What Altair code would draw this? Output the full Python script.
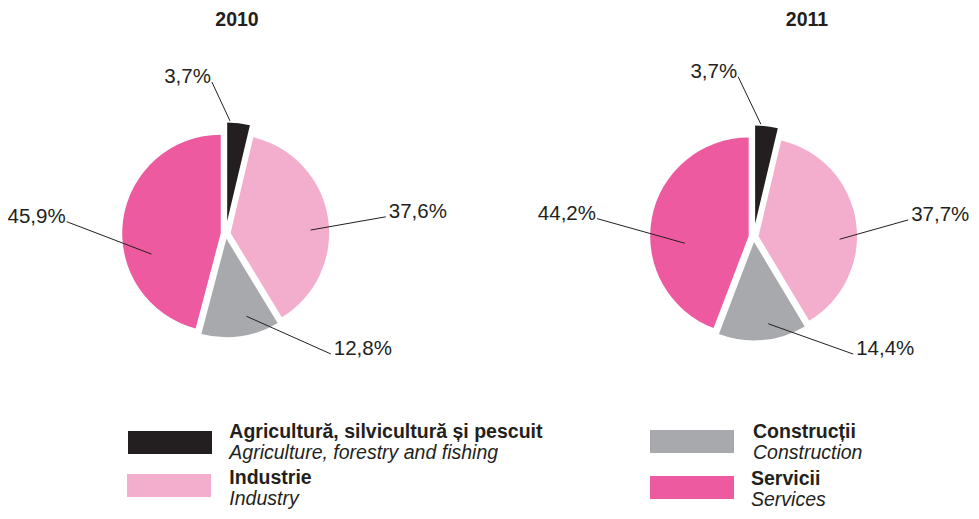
import altair as alt
import pandas as pd

# ---------------- data ----------------
YEARS = ["2010", "2011"]
CATEGORIES_RO = ["Agricultură, silvicultură și pescuit", "Industrie", "Construcții", "Servicii"]
CATEGORIES_EN = ["Agriculture, forestry and fishing", "Industry", "Construction", "Services"]
SHARE_2010 = [3.7, 37.6, 12.8, 45.9]
SHARE_2011 = [3.7, 37.7, 14.4, 44.2]

# ---------------- style / layout ----------------
COLORS = ["#231f20", "#f4aecd", "#a7a9ac", "#ee5a9f"]
TEXT_COLOR = "#231f20"
FONT = "Liberation Sans"
W, H = 963, 503
CENTERS = {"2010": (217.7, 225.9), "2011": (745.6, 229.0)}
RADIUS = 98.5
EXPLODE = [13, 5, 5, 5]
# leader lines per slice: (inner angle deg, inner dist, outer angle deg, outer dist)
LEADERS = {
    "2010": [(2.2, 113, 354.8, 152.5), (87.4, 85, 83.9, 161), (165.8, 85, 138.8, 159.5), (254.8, 77, 274.4, 159.5)],
    "2011": [(3.7, 113, 354.5, 161), (91.5, 86, 83.7, 155.5), (170.4, 88, 139.6, 153.7), (264.8, 69, 276.7, 157.7)],
}
TITLE_POS = {"2010": (229, 18), "2011": (799, 18)}
LEGEND_RECT = [(120, 423), (119, 466), (642, 422), (642, 468)]
LEGEND_RECT_SIZE = (84, 23)
LEGEND_TEXT = [(221.3, 430.3), (221.3, 476), (745, 430.3), (743, 477)]
LEGEND_LINE_GAP = 20.5

color_scale = alt.Scale(domain=CATEGORIES_RO, range=COLORS)

rows = []
for year, shares in zip(YEARS, [SHARE_2010, SHARE_2011]):
    for i, v in enumerate(shares):
        ia, ir, oa, orr = LEADERS[year][i]
        rows.append({
            "year": year, "order": i, "cat": CATEGORIES_RO[i], "value": v,
            "label": f"{v:.1f}".replace(".", ",") + "%",
            "explode": EXPLODE[i], "in_ang": ia, "in_r": ir, "out_ang": oa, "out_r": orr,
        })
df = pd.DataFrame(rows)

layers = []
for year in YEARS:
    cx, cy = CENTERS[year]
    base = alt.Chart(df).transform_filter(alt.datum.year == year).transform_window(
        cum="sum(value)", sort=[alt.SortField("order")], frame=[None, 0]
    ).transform_calculate(
        cum0="datum.cum - datum.value",
        mid="(datum.cum - datum.value / 2) / 100 * 2 * PI",
    ).transform_calculate(
        px=f"{cx} + datum.explode * sin(datum.mid)",
        py=f"{cy} - datum.explode * cos(datum.mid)",
        x1=f"{cx} + datum.in_r * sin(datum.in_ang * PI / 180)",
        y1=f"{cy} - datum.in_r * cos(datum.in_ang * PI / 180)",
        x2=f"{cx} + datum.out_r * sin(datum.out_ang * PI / 180)",
        y2=f"{cy} - datum.out_r * cos(datum.out_ang * PI / 180)",
        side="sin(datum.out_ang * PI / 180) >= 0 ? 'R' : 'L'",
    )
    arcs = base.mark_arc(outerRadius=RADIUS).encode(
        theta=alt.Theta("cum0:Q", scale=alt.Scale(domain=[0, 100]), stack=False),
        theta2="cum:Q",
        x=alt.X("px:Q", scale=None, axis=None),
        y=alt.Y("py:Q", scale=None, axis=None),
        color=alt.Color("cat:N", scale=color_scale, legend=None),
    )
    lead = base.mark_rule(color=TEXT_COLOR, strokeWidth=1).encode(
        x=alt.X("x1:Q", scale=None, axis=None),
        y=alt.Y("y1:Q", scale=None, axis=None),
        x2="x2:Q", y2="y2:Q",
    )
    lab_r = base.transform_filter(alt.datum.side == "R").mark_text(
        align="left", baseline="alphabetic", dx=3, dy=1, font=FONT, fontSize=20.5, color=TEXT_COLOR
    ).encode(x=alt.X("x2:Q", scale=None, axis=None), y=alt.Y("y2:Q", scale=None, axis=None), text="label:N")
    lab_l = base.transform_filter(alt.datum.side == "L").mark_text(
        align="right", baseline="alphabetic", dx=-1, dy=1, font=FONT, fontSize=20.5, color=TEXT_COLOR
    ).encode(x=alt.X("x2:Q", scale=None, axis=None), y=alt.Y("y2:Q", scale=None, axis=None), text="label:N")
    layers += [arcs, lead, lab_r, lab_l]

titles_df = pd.DataFrame({"year": YEARS,
                          "tx": [TITLE_POS[y][0] for y in YEARS],
                          "ty": [TITLE_POS[y][1] for y in YEARS]})
titles = alt.Chart(titles_df).mark_text(
    align="center", baseline="alphabetic", font=FONT, fontSize=19.5, fontWeight="bold", color=TEXT_COLOR
).encode(x=alt.X("tx:Q", scale=None, axis=None), y=alt.Y("ty:Q", scale=None, axis=None), text="year:N")
layers.append(titles)

leg_df = pd.DataFrame({
    "cat": CATEGORIES_RO, "en": CATEGORIES_EN,
    "rx": [p[0] for p in LEGEND_RECT], "ry": [p[1] for p in LEGEND_RECT],
    "tx": [p[0] for p in LEGEND_TEXT], "ty": [p[1] for p in LEGEND_TEXT],
})
leg_base = alt.Chart(leg_df).transform_calculate(
    rx2=f"datum.rx + {LEGEND_RECT_SIZE[0]}",
    ry2=f"datum.ry + {LEGEND_RECT_SIZE[1]}",
    ty2=f"datum.ty + {LEGEND_LINE_GAP}",
)
leg_rect = leg_base.mark_rect().encode(
    x=alt.X("rx:Q", scale=None, axis=None), x2="rx2:Q",
    y=alt.Y("ry:Q", scale=None, axis=None), y2="ry2:Q",
    color=alt.Color("cat:N", scale=color_scale, legend=None),
)
leg_ro = leg_base.mark_text(
    align="left", baseline="alphabetic", font=FONT, fontSize=19.5, fontWeight="bold", color=TEXT_COLOR
).encode(x=alt.X("tx:Q", scale=None, axis=None), y=alt.Y("ty:Q", scale=None, axis=None), text="cat:N")
leg_en = leg_base.mark_text(
    align="left", baseline="alphabetic", font=FONT, fontSize=19.5, fontStyle="italic", color=TEXT_COLOR
).encode(x=alt.X("tx:Q", scale=None, axis=None), y=alt.Y("ty2:Q", scale=None, axis=None), text="en:N")
layers += [leg_rect, leg_ro, leg_en]

chart = alt.layer(*layers).properties(
    width=W, height=H, padding=0, autosize=alt.AutoSizeParams(type="none")
).configure_view(stroke=None)

chart.save("out.html", embed_options={"renderer": "svg", "actions": False})
